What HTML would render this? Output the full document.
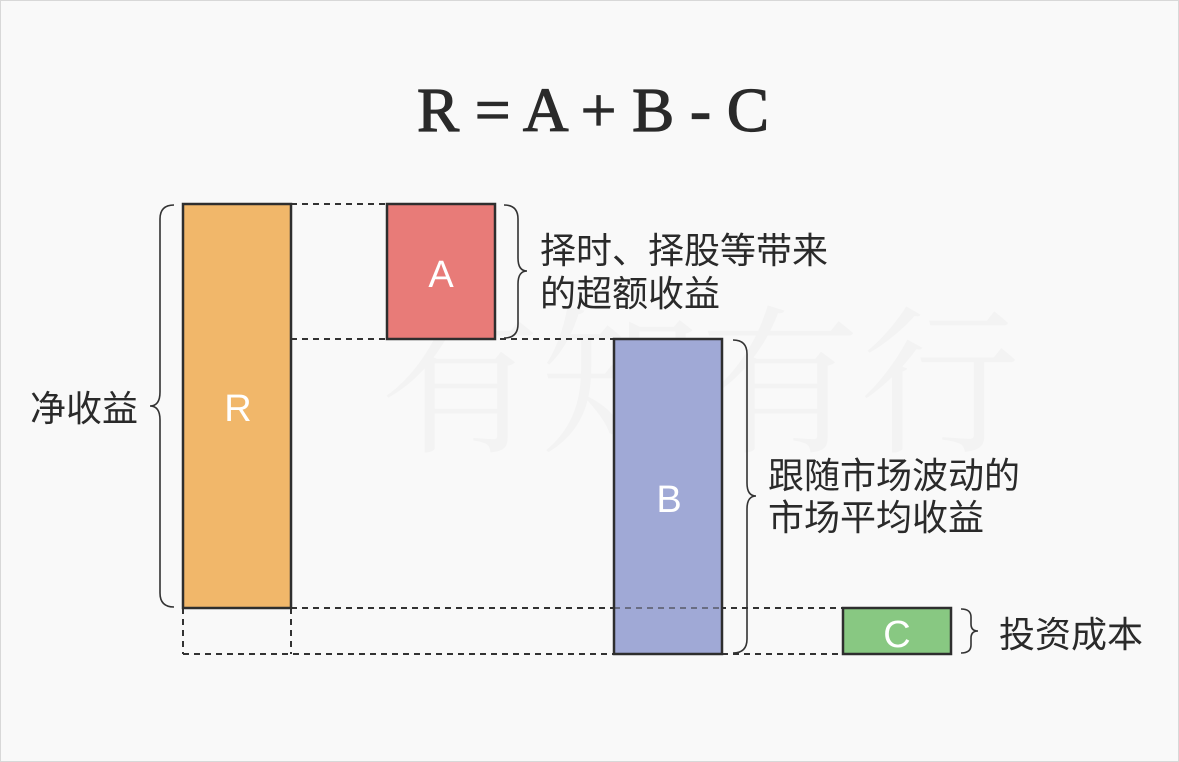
<!DOCTYPE html>
<html><head><meta charset="utf-8"><style>
html,body{margin:0;padding:0;background:#fff}
svg{display:block}
</style></head><body>
<svg width="1179" height="762" viewBox="0 0 1179 762" xmlns="http://www.w3.org/2000/svg">
<rect x="0.5" y="0.5" width="1178" height="761" fill="#f9f9f9" stroke="#d8d8d8"/>
<text x="593" y="131" text-anchor="middle" font-family="Liberation Serif, serif" font-size="62" fill="#2a2a2a" stroke="#2a2a2a" stroke-width="1.2" textLength="352" lengthAdjust="spacingAndGlyphs">R = A + B - C</text>
<!-- watermark -->
<text x="700" y="440" text-anchor="middle" font-family="Noto Serif CJK SC, serif" font-size="160" fill="#000" fill-opacity="0.025">有知有行</text>
<g stroke="#333" stroke-width="2" stroke-dasharray="6,5" fill="none">
<line x1="291" y1="204" x2="387" y2="204"/>
<line x1="291" y1="339" x2="614" y2="339"/>
<line x1="291" y1="608" x2="843" y2="608"/>
<line x1="183" y1="654" x2="614" y2="654"/>
<line x1="722" y1="654" x2="843" y2="654"/>
<line x1="183" y1="608" x2="183" y2="654"/>
<line x1="291" y1="608" x2="291" y2="654"/>
</g>
<g stroke="#2e2e2e" stroke-width="2.5">
<rect x="183" y="204" width="108" height="404" fill="#f1b76a"/>
<rect x="387" y="204" width="108" height="135" fill="#e87b78"/>
<rect x="614" y="339" width="108" height="315" fill="#a0a9d6"/>
<rect x="843" y="608" width="108" height="46" fill="#88c882"/>
</g>
<line x1="614" y1="608" x2="722" y2="608" stroke="#333" stroke-width="2" stroke-dasharray="6,5" opacity="0.5"/>
<g font-family="Liberation Sans, sans-serif" font-size="38" fill="#fff" text-anchor="middle">
<text x="238" y="421">R</text>
<text x="441" y="287">A</text>
<text x="669" y="512">B</text>
<text x="897" y="647">C</text>
</g>
<g stroke="#333" stroke-width="1.6" fill="none">
<path d="M174,205 Q160,205 160,219 V392 Q160,406 150,406 Q160,406 160,420 V593 Q160,607 174,607"/>
<path d="M504,205 Q518,205 518,219 V258 Q518,271 527,271 Q518,271 518,284 V324 Q518,338 504,338"/>
<path d="M733,340 Q747,340 747,354 V483 Q747,496 756,496 Q747,496 747,509 V639 Q747,653 733,653"/>
<path d="M961,609 Q971,609 971,617 V624 Q971,631 978,631 Q971,631 971,638 V645 Q971,653 961,653"/>
</g>
<g font-family="Liberation Sans, Noto Sans CJK SC, sans-serif" font-size="36" fill="#2a2a2a">
<text x="30" y="421">净收益</text>
<text x="540" y="263">择时、择股等带来</text>
<text x="540" y="306">的超额收益</text>
<text x="768" y="488">跟随市场波动的</text>
<text x="768" y="530">市场平均收益</text>
<text x="999" y="647">投资成本</text>
</g>
</svg>
</body></html>
